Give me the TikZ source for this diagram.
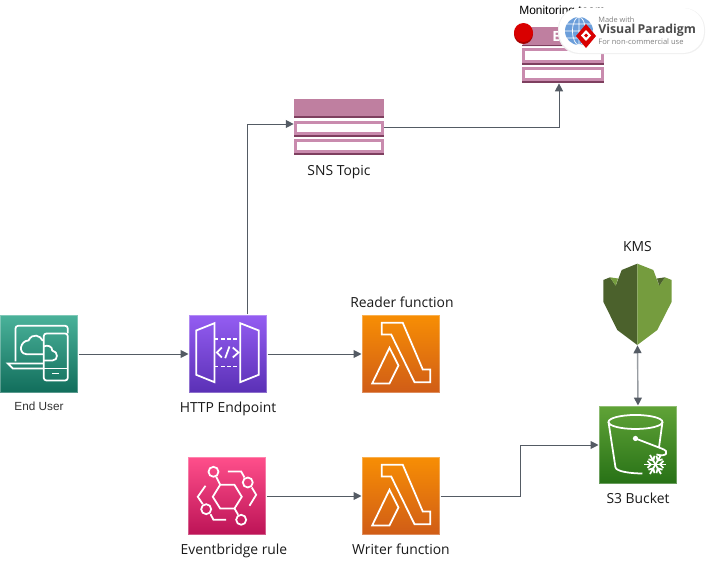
\documentclass[tikz,border=0pt]{standalone}
\usepackage{fontspec}
\setmainfont{Open Sans}
\newfontfamily\arialfont{Liberation Sans}
\usetikzlibrary{arrows.meta,positioning}
\definecolor{linkgray}{HTML}{545B64}
\definecolor{snsmid}{HTML}{BF7FA0}
\definecolor{snsdark}{HTML}{7E3F5F}
\definecolor{snslight}{HTML}{C98BAE}
\definecolor{kmsdark}{HTML}{4B612C}
\definecolor{kmslight}{HTML}{759C3E}
\tikzset{
  iconbox/.style={minimum size=1.56cm, inner sep=0pt, draw=white, draw opacity=0.3, line width=0.6pt},
  glyph/.style={draw=white, line width=1pt, line join=miter, fill=none},
  caption/.style={font=\fontsize{7.9}{10}\selectfont, text=black!90, inner sep=0pt},
  link/.style={draw=linkgray, line width=0.55pt, -{Triangle[length=4.5pt,width=4.5pt]}},
  linkboth/.style={draw=linkgray!60, line width=0.8pt, {Triangle[length=4.5pt,width=4.5pt,color=linkgray]}-{Triangle[length=4.5pt,width=4.5pt,color=linkgray]}},
  lambdaglyph/.pic={
    \draw[glyph] (20.3,8.3) -- (41.3,8.3) -- (61.3,55) -- (68.7,55) -- (68.7,67.7) -- (53,67.7) -- (29.7,20) -- (20.3,20) -- cycle;
    \draw[glyph] (28,33.3) -- (37,51) -- (28,69) -- (10.7,69) -- cycle;
  },
}
\begin{document}
\begin{tikzpicture}[x=0.02cm,y=-0.02cm]
\useasboundingbox (0,0) rectangle (711,568);
% service boxes
\node[iconbox, top color={rgb,255:red,74;green,178;blue,154}, bottom color={rgb,255:red,17;green,109;blue,91}] (user) at (39,354) {};
\node[iconbox, top color={rgb,255:red,148;green,93;blue,242}, bottom color={rgb,255:red,90;green,48;blue,181}] (http) at (228,354) {};
\node[iconbox, top color={rgb,255:red,247;green,142;blue,4}, bottom color={rgb,255:red,208;green,92;blue,23}] (reader) at (401,354) {};
\node[iconbox, top color={rgb,255:red,255;green,79;blue,139}, bottom color={rgb,255:red,188;green,19;blue,86}] (rule) at (227,496) {};
\node[iconbox, top color={rgb,255:red,247;green,142;blue,4}, bottom color={rgb,255:red,208;green,92;blue,23}] (writer) at (401,496) {};
\node[iconbox, top color={rgb,255:red,96;green,163;blue,55}, bottom color={rgb,255:red,39;green,113;blue,22}] (bucket) at (638,445) {};
\node[minimum width=1.38cm, minimum height=1.62cm, inner sep=0pt] (kms) at (637.5,304.5) {};
\node[minimum width=1.8cm, minimum height=1.12cm, inner sep=0pt] (sns) at (339,127) {};
\node[minimum width=1.64cm, minimum height=1.12cm, inner sep=0pt] (team) at (563,55) {};
% captions
\node[font=\arialfont\fontsize{6.7}{8}\selectfont, text=black!80, inner sep=0pt, below=0.17cm of user] (userlabel) {End User};
\node[caption, below=0.17cm of http] (httplabel) {HTTP Endpoint};
\node[caption, above=0.12cm of reader, xshift=0.02cm] (readerlabel) {Reader function};
\node[caption, below=0.17cm of rule, xshift=0.14cm] (rulelabel) {Eventbridge rule};
\node[caption, below=0.17cm of writer] (writerlabel) {Writer function};
\node[caption, below=0.17cm of bucket] (bucketlabel) {S3 Bucket};
\node[caption, above=0.24cm of kms] (kmslabel) {KMS};
\node[caption, below=0.19cm of sns] (snslabel) {SNS Topic};
\node[font=\arialfont\fontsize{6.8}{8}\selectfont, inner sep=0pt, anchor=west] (teamlabel) at (519,11) {Monitoring team};
% sns stack
\fill[snsmid] (294,99) rectangle (384,118);
\fill[snsdark] (294,116) rectangle (384,118);
\fill[snslight] (294,121) rectangle (384,137);
\fill[white] (297,123.5) rectangle (381,132);
\fill[snsdark] (294,135) rectangle (384,137);
\fill[snslight] (294,139) rectangle (384,155);
\fill[white] (297,142) rectangle (381,150);
\fill[snsdark] (294,153) rectangle (384,155);
% email stack
\fill[snsmid] (531,27) -- (604,27) -- (604,46) -- (522,46) -- cycle;
\fill[snsdark] (522,44.5) rectangle (604,46);
\node[font=\bfseries\fontsize{8}{10}\selectfont, text=white, inner sep=0pt, anchor=west] (emaillabel) at (552,36) {Email};
\fill[snslight] (522,48) rectangle (604,65);
\fill[white] (525,50.5) rectangle (601,60);
\fill[snsdark] (522,63) rectangle (604,65);
\fill[snslight] (522,67) rectangle (604,83);
\fill[white] (525,69.5) rectangle (601,78);
\fill[snsdark] (522,81) rectangle (604,83);
\fill[red!65!black] (523.5,34) circle [x radius=9.5,y radius=10];
\fill[red!85!black] (523.5,32.5) circle [x radius=9.5,y radius=9.5];
% kms shield
\fill[kmsdark] (637.3,263.7) -- (621.7,270) -- (615.7,285.7) -- (610,277.3) -- (603.3,280) -- (603.3,301.7) -- (617.3,330) -- (637.3,345) -- cycle;
\fill[kmslight] (637.3,263.7) -- (653.3,270) -- (659.3,285.7) -- (665,277.3) -- (671.7,280) -- (671.7,301.7) -- (657.3,330) -- (637.3,345) -- cycle;
\fill[kmslight] (610,277.3) -- (618,278.5) -- (615.7,285.7) -- cycle;
\fill[kmsdark] (665,277.3) -- (657,278.5) -- (659.3,285.7) -- cycle;
% glyphs
\begin{scope}[shift={(user.north west)}]
  \draw[glyph, rounded corners=1.5pt] (16,47) -- (16,11.3) -- (68.3,11.3) -- (68.3,19);
  \draw[glyph] (44.3,49) -- (8.3,49) -- (13.3,54) -- (44.3,54);
  \draw[glyph, rounded corners=1.5pt] (44.3,19) rectangle (68.3,66);
  \draw[glyph] (44.3,54) -- (68.3,54);
  \draw[glyph] (53,59) -- (60,59);
  \draw[glyph] (43.3,26.3) .. controls (41,21) and (33,18) .. (29,26) .. controls (21,26) and (18,39) .. (27,39.7) -- (44.3,39.7);
  \draw[glyph] (44.3,32) .. controls (48,30) and (53,32) .. (52.7,36) .. controls (59,37) and (59,46) .. (53,46) -- (44.3,46);
\end{scope}
\begin{scope}[shift={(http.north west)}]
  \draw[glyph] (7.7,16) -- (26,8.7) -- (26,67.7) -- (7.7,60.3) -- cycle;
  \draw[glyph] (70.3,16) -- (51.7,8.7) -- (51.7,67.7) -- (70.3,60.3) -- cycle;
  \draw[glyph, dash pattern=on 2.2pt off 1.4pt] (26,24.7) -- (51.7,24.7);
  \draw[glyph, dash pattern=on 2.2pt off 1.4pt] (26,52) -- (51.7,52);
  \draw[glyph] (33.3,33) -- (28.3,38) -- (33.3,43);
  \draw[glyph] (44.3,33) -- (50,38) -- (44.3,43);
  \draw[glyph] (41,32) -- (36.7,43.7);
\end{scope}
\pic at (reader.north west) {lambdaglyph};
\pic at (writer.north west) {lambdaglyph};
\begin{scope}[shift={(rule.north west)}]
  \draw[glyph] (25.3,40.3) -- (32.7,28.3) -- (47,28.3) -- (54.3,40.3) -- (47,52) -- (32.7,52) -- cycle;
  \draw[glyph] (26,15.3) circle (5);
  \draw[glyph] (28.7,20.3) -- (32.7,28.3);
  \draw[glyph] (40.3,15) -- (53.7,15) -- (57,21);
  \draw[glyph] (60.3,26) circle (5);
  \draw[glyph] (64.3,31) -- (68.7,38.3) -- (62,49.3);
  \draw[glyph] (53.7,63.3) circle (5);
  \draw[glyph] (47,52) -- (50.7,58.3);
  \draw[glyph] (18,29.3) -- (10.3,40.3) -- (15.3,47.7);
  \draw[glyph] (18.7,52.7) circle (5);
  \draw[glyph] (23,57.7) -- (26,63.3) -- (38.7,63.3);
\end{scope}
\begin{scope}[shift={(bucket.north west)}]
  \draw[glyph] (37,16.5) circle [x radius=27,y radius=7];
  \draw[glyph] (10,16.5) -- (17,62) .. controls (18,66) and (32,68) .. (44,68);
  \draw[glyph] (64,16.5) -- (60.5,42);
  \draw[glyph] (37,33) -- (63,43) .. controls (72,46) and (68,52) .. (58,49);
  \fill[white] (37,33) circle (2.6);
  \begin{scope}[shift={(57,59)}]
    \foreach \ang in {0,60,120} {
      \draw[glyph, rotate=\ang] (-11,0) -- (11,0);
      \draw[glyph, rotate=\ang] (8,-3.5) -- (4.5,0) -- (8,3.5);
      \draw[glyph, rotate=\ang] (-8,-3.5) -- (-4.5,0) -- (-8,3.5);
    }
  \end{scope}
\end{scope}
% connectors
\draw[link] (user.east) -- (http.west);
\draw[link] (http.east) -- (reader.west);
\draw[link] (rule.east) -- (writer.west);
\draw[link] (writer.east) -- ++(80,0) |- (bucket.west);
\draw[link] ([xshift=0.38cm]http.north) |- ([yshift=0.06cm]sns.west);
\draw[link] (sns.east) -| ([xshift=-0.08cm]team.south);
\draw[linkboth] (kms.south) -- (bucket.north);
% watermark
\fill[black!6, rounded corners=12pt] (558,8) rectangle (705,54);
\fill[white, rounded corners=12pt] (559,8) rectangle (704,53);
\fill[cyan!55!blue!60!white] (579,31) circle (14);
\draw[white, line width=0.4pt] (579,31) circle [x radius=6.5,y radius=14] (565,31) -- (593,31) (567,24) -- (591,24) (567,38) -- (591,38) (579,17) -- (579,45);
\fill[red!85!black] (586,24) -- (596,36) -- (586,48) -- (576,36) -- cycle;
\fill[white] (586,30) -- (591,35.5) -- (586,41) -- (581,35.5) -- cycle;
\fill[red!85!black] (586,33.5) -- (588,35.5) -- (586,37.5) -- (584,35.5) -- cycle;
\node[font=\fontsize{4.2}{6}\selectfont, text=black!50, inner sep=0pt, anchor=west] (madewith) at (598,20) {Made with};
\node[font=\bfseries\fontsize{7}{10}\selectfont, text=black!70, inner sep=0pt, anchor=west] (vpname) at (598,30.5) {Visual\,Paradigm};
\node[font=\fontsize{4.3}{6}\selectfont, text=black!50, inner sep=0pt, anchor=west] (vpnote) at (598,42) {For non-commercial use};
\end{tikzpicture}
\end{document}
